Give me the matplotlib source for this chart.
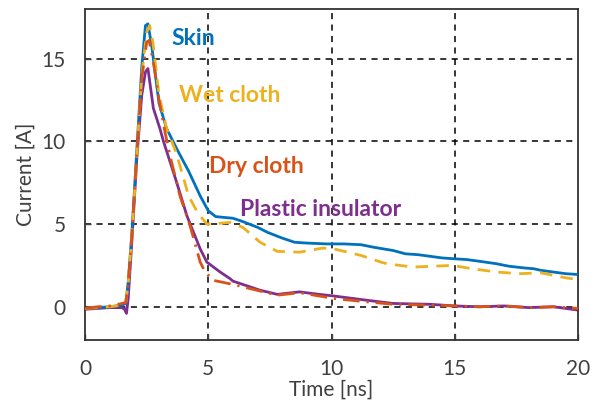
import matplotlib.pyplot as plt

# --- data (time in ns, current in A) ---
t_skin = [0, 0.5, 1.0, 1.5, 1.65, 1.75, 1.9, 2.1, 2.3, 2.45, 2.55, 2.7, 3.0, 3.3, 3.7,
          4.2, 4.67, 5.0, 5.3, 6.0, 6.4, 7.0, 7.4, 8.0, 8.5, 9.0, 9.8, 10.5, 11.2,
          11.7, 12.5, 13.0, 13.5, 14.0, 14.5, 15.0, 15.5, 16.0, 16.7, 17.2, 17.8,
          18.2, 18.5, 19.0, 19.5, 20.0]
i_skin = [-0.1, -0.05, 0.0, 0.1, 0.2, 1.5, 4.5, 9.5, 14.5, 17.0, 17.1, 15.8, 12.3, 10.8, 9.6,
          8.2, 6.7, 5.8, 5.45, 5.35, 5.15, 4.8, 4.5, 4.15, 3.9, 3.85, 3.8, 3.8, 3.75,
          3.6, 3.4, 3.2, 3.15, 3.05, 2.95, 2.9, 2.85, 2.75, 2.6, 2.45, 2.35,
          2.3, 2.2, 2.1, 2.0, 1.95]

t_wet = [0, 0.5, 1.0, 1.5, 1.65, 1.75, 1.9, 2.1, 2.3, 2.5, 2.62, 2.75, 3.0, 3.3, 3.7,
         4.2, 4.6, 4.95, 5.5, 5.9, 6.4, 7.1, 7.8, 8.7, 9.65, 10.1, 11.2, 12.0, 12.25,
         13.3, 14.9, 15.7, 16.7, 17.6, 18.5, 19.5, 20.0]
i_wet = [-0.1, -0.05, 0.0, 0.1, 0.2, 1.4, 4.3, 9.2, 14.0, 16.6, 17.0, 16.0, 12.8, 10.8, 9.3,
         6.7, 5.6, 5.0, 5.05, 5.1, 4.8, 3.9, 3.35, 3.3, 3.55, 3.5, 3.1, 2.7, 2.6,
         2.4, 2.5, 2.3, 2.1, 2.0, 2.05, 1.75, 1.65]

t_dry = [0, 0.5, 1.0, 1.5, 1.65, 1.75, 1.9, 2.1, 2.3, 2.5, 2.6, 2.8, 3.0, 3.25, 3.45,
         3.85, 4.26, 4.67, 4.87, 5.2, 6.0, 7.1, 7.8, 8.7, 9.5, 10.1, 11.4, 12.5,
         14.0, 15.0, 16.0, 17.0, 18.0, 19.0, 20.0]
i_dry = [-0.1, 0.0, 0.05, 0.2, 0.25, 1.4, 4.3, 9.3, 13.8, 16.0, 16.1, 14.5, 12.5, 10.5, 9.1,
         6.7, 4.9, 2.7, 2.1, 1.6, 1.35, 0.95, 0.7, 0.85, 0.65, 0.5, 0.3, 0.15,
         0.1, 0.05, 0.0, 0.05, -0.05, 0.0, -0.1]

t_plastic = [0, 0.5, 1.0, 1.5, 1.6, 1.68, 1.75, 1.9, 2.1, 2.3, 2.45, 2.55, 2.77, 3.04, 3.18,
             3.72, 4.13, 4.67, 4.94, 5.48, 5.88, 6.0, 7.1, 7.8, 8.7, 9.5, 10.1, 11.4,
             12.5, 14.0, 15.0, 16.0, 17.0, 18.0, 19.0, 19.5, 20.0]
i_plastic = [-0.15, -0.1, -0.05, -0.05, -0.15, -0.4, 0.5, 4.0, 9.0, 12.8, 14.2, 14.4, 12.0, 10.75, 10.0,
             7.5, 5.5, 3.5, 2.7, 2.1, 1.7, 1.55, 1.0, 0.75, 0.9, 0.75, 0.65, 0.4,
             0.2, 0.15, 0.05, 0.0, 0.05, -0.05, 0.0, -0.1, -0.2]

labels = ["Skin", "Wet cloth", "Dry cloth", "Plastic insulator"]
colors = ["#0072BD", "#EDB120", "#D95319", "#7E2F8E"]
label_pos = [(3.52, 16.2), (3.8, 12.75), (5.02, 8.45), (6.3, 5.85)]

x_ticks = [0, 5, 10, 15, 20]
y_ticks = [0, 5, 10, 15]

plt.rcParams['font.family'] = ['Lato', 'DejaVu Sans']

fig = plt.figure(figsize=(5.95, 4.08), dpi=100)
ax = fig.add_axes([0.143, 0.167, 0.8285, 0.811])

grid_style = dict(color='black', lw=1.1, linestyle=(0, (4, 3.5)), zorder=1)
for x in x_ticks[1:-1]:
    ax.axvline(x, **grid_style)
for y in y_ticks:
    ax.axhline(y, **grid_style)

ax.plot(t_skin, i_skin, color=colors[0], lw=2.0, zorder=3)
ax.plot(t_wet, i_wet, color=colors[1], lw=2.0, linestyle=(0, (4.5, 3)), zorder=4)
ax.plot(t_dry, i_dry, color=colors[2], lw=2.0, linestyle=(0, (6, 2.5, 0.8, 2.5)), zorder=5)
ax.plot(t_plastic, i_plastic, color=colors[3], lw=2.0, zorder=2)

for lab, col, (x, y) in zip(labels, colors, label_pos):
    ax.text(x, y, lab, color=col, fontsize=16.5, fontweight='bold', ha='left', va='center')

ax.set_xlim(0, 20)
ax.set_ylim(-2, 18)
ax.set_xticks(x_ticks)
ax.set_yticks(y_ticks)
ax.tick_params(direction='in', length=4, width=1, colors='#444444', labelsize=15,
               labelcolor='#404040', pad=14)
for s in ax.spines.values():
    s.set_linewidth(1.3)
    s.set_color('#333333')

ax.set_xlabel("Time [ns]", fontsize=15, color='#404040', labelpad=0)
ax.set_ylabel("Current [A]", fontsize=15, color='#404040', labelpad=4)

fig.savefig("out.png", dpi=100)
